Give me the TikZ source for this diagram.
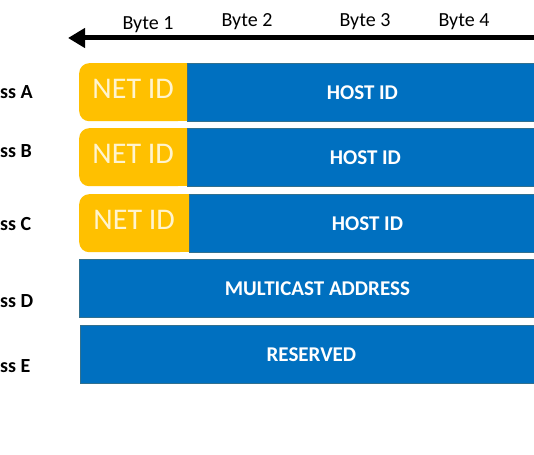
\documentclass[tikz,border=0pt]{standalone}
\usepackage{fontspec}
\setmainfont{Carlito}
\usetikzlibrary{arrows.meta}
\definecolor{netyellow}{HTML}{FFC000}
\definecolor{nettext}{HTML}{FFF4CF}
\definecolor{hostblue}{HTML}{0070C0}
\definecolor{edgeblue}{HTML}{31708F}

\begin{document}
\begin{tikzpicture}[x=1pt, y=-1pt,
  bytelabel/.style={anchor=base, font=\fontsize{20}{20}\selectfont},
  classlabel/.style={anchor=base west, inner sep=0, font=\bfseries\fontsize{20}{20}\selectfont},
  netbox/.style={anchor=north west, fill=netyellow, rounded corners=10pt, minimum height=58pt, minimum width=108pt, inner sep=0, text=nettext, text depth=6pt, font=\fontsize{30}{30}\selectfont},
  hostbox/.style={anchor=north west, fill=hostblue, draw=edgeblue, line width=.8pt, minimum height=58pt, inner sep=0, text=white, font=\bfseries\fontsize{21}{21}\selectfont}]
\useasboundingbox (0,0) rectangle (534,454);
\clip (0,0) rectangle (534,454);

% byte arrow
\coordinate (arrowR) at (545,38);
\coordinate (arrowL) at (68,38);
\draw[black, line width=5pt, -{Triangle[length=17pt,width=19pt]}] (arrowR) -- (arrowL);
\foreach \n/\x/\y in {1/148/30, 2/247/27, 3/365/27, 4/464/27}
  \node[bytelabel] (byte\n) at (\x,\y) {Byte \n};

% class names
\foreach \c/\y in {A/99, B/158, C/230, D/307, E/372}
  \node[classlabel] (class\c) at (0,\y) {ss \c};

% net id parts
\fill[netyellow] (140,63) rectangle (188,121);
\node[netbox] (netA) at (79,63) {NET ID};
\fill[netyellow] (140,128) rectangle (188,186);
\node[netbox] (netB) at (79,128) {NET ID};
\fill[netyellow] (140,194) rectangle (190,252);
\node[netbox, minimum width=110pt] (netC) at (79,194) {NET ID};

% host id parts
\node[hostbox, minimum width=350pt] (hostA) at (187,63) {HOST ID};
\node[hostbox, minimum width=356pt] (hostB) at (187,128) {HOST ID};
\node[hostbox, minimum width=356pt] (hostC) at (189,194) {HOST ID};
\node[hostbox, minimum width=476pt] (multiD) at (79,259) {MULTICAST ADDRESS};
\node[hostbox, minimum width=462pt] (reservedE) at (80,325) {RESERVED};
\end{tikzpicture}
\end{document}
